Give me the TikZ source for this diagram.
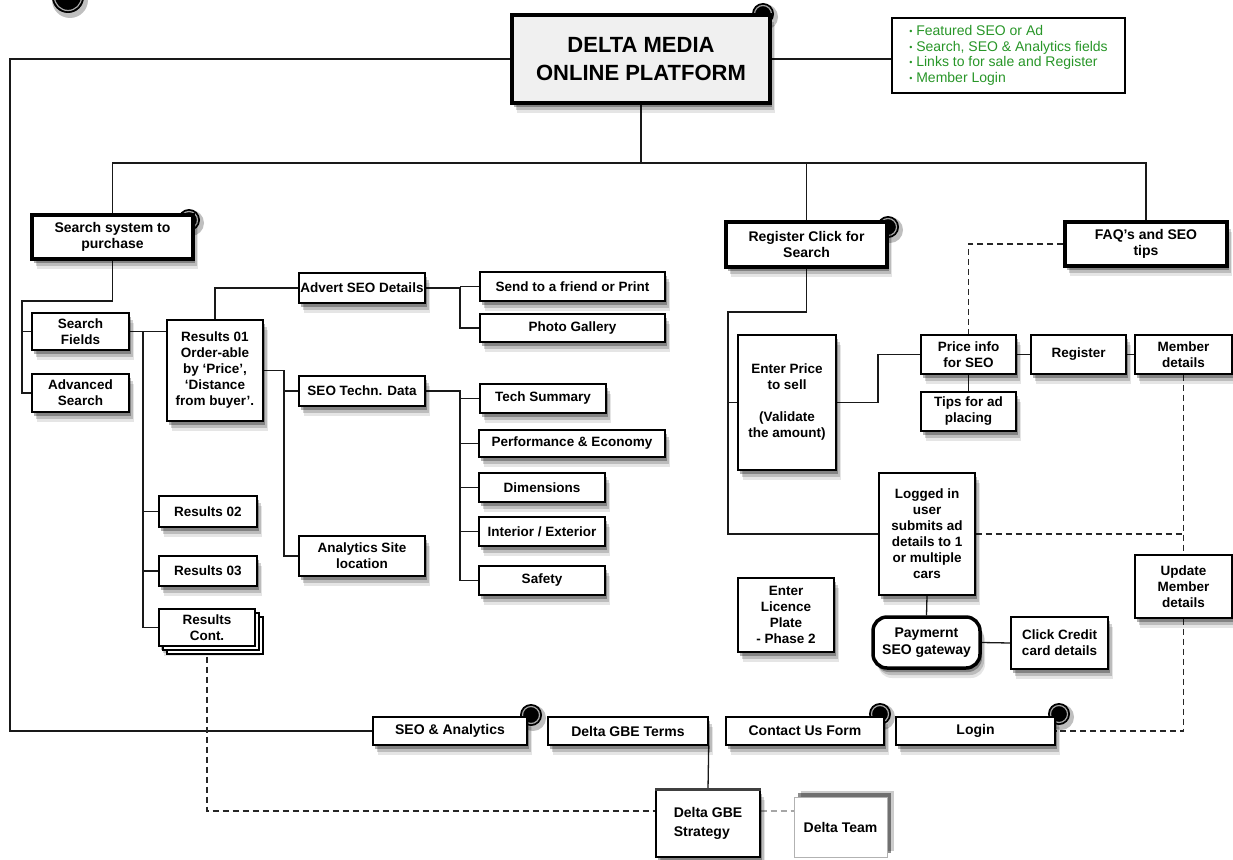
\documentclass[tikz,border=0pt]{standalone}
\usepackage{fontspec}
\setmainfont{Liberation Sans}
\usetikzlibrary{shadows}
\definecolor{grn}{RGB}{40,150,40}
\pgfdeclarelayer{back}
\pgfdeclarelayer{iconl}
\pgfsetlayers{back,iconl,main}
\tikzset{
  sh/.style={drop shadow={shadow xshift=5pt,shadow yshift=-10pt,opacity=.10,fill=black},
             drop shadow={shadow xshift=4pt,shadow yshift=-7pt,opacity=.18,fill=black},
             drop shadow={shadow xshift=2pt,shadow yshift=-4pt,opacity=.30,fill=black}},
  plainbx/.style={draw=black, line width=1.4pt, fill=white, align=center, inner sep=1pt,
             font=\fontsize{13.5}{16}\selectfont\bfseries},
  bx/.style={plainbx, sh},
  tbx/.style={bx, line width=3.5pt, font=\fontsize{14}{16.7}\selectfont\bfseries},
  bbx/.style={bx, font=\fontsize{14}{16.7}\selectfont\bfseries},
  ln/.style={draw=black!90, line width=1.3pt},
  dsh/.style={draw=black!85, line width=1.6pt, dash pattern=on 6pt off 4pt},
}
\newcommand{\mybx}[6][bx]{\node[#1, minimum width={#4-#2}, minimum height={#5-#3}] (#6) at ({(#2+#4)/2},{(#3+#5)/2})}
\newcommand{\myicon}[3][11]{%
  \fill[black,opacity=.25] (#2+2,#3+3) circle ({#1+2});
  \fill[black] (#2,#3) circle (#1);
  \draw[gray!70,line width=1.2pt] (#2,#3) circle ({#1-2.5});}
\begin{document}
\begin{tikzpicture}[x=1pt,y=-1pt]
\useasboundingbox (0,0) rectangle (1233,859);

% icons
\begin{pgfonlayer}{iconl}
\myicon[16]{68}{-3}
\myicon{763}{14}
\myicon{189}{220}
\myicon{888}{227}
\myicon{531}{715}
\myicon{880}{714}
\myicon{1059}{714}
\end{pgfonlayer}

% top
\mybx[tbx, fill=gray!12, font=\fontsize{22}{28}\selectfont\bfseries]{512}{15}{770}{103}{main} {DELTA MEDIA\\ONLINE PLATFORM};
\mybx[plainbx, line width=1.2pt, align=left, text=grn, font=\fontsize{14}{15.7}\selectfont]{892}{18}{1125}{93}{green}
  {{\fontsize{9}{9}\selectfont\raisebox{1pt}{•}} Featured SEO or Ad\\
   {\fontsize{9}{9}\selectfont\raisebox{1pt}{•}} Search, SEO \& Analytics fields\\
   {\fontsize{9}{9}\selectfont\raisebox{1pt}{•}} Links to for sale and Register\\
   {\fontsize{9}{9}\selectfont\raisebox{1pt}{•}} Member Login};

% left branch
\mybx[tbx]{32}{215}{193}{259}{search} {Search system to\\purchase};
\mybx{32}{313}{129}{350}{sf} {Search\\Fields};
\mybx{32}{374}{129}{412}{adv} {Advanced\\Search};
\mybx{167}{320}{263}{421}{r01} {Results 01\\Order-able\\by `Price',\\`Distance\\from buyer'.};
\mybx{159}{496}{257}{527}{r02} {Results 02};
\mybx{159}{556}{257}{586}{r03} {Results 03};
\mybx[bx, double copy shadow={shadow xshift=4pt,shadow yshift=-4pt,draw=black,fill=white,line width=1.2pt}]{159}{609}{255}{646}{rc} {Results\\Cont.};
\mybx{299}{273}{425}{303}{adseo} {Advert SEO Details};
\mybx{299}{376}{425}{406}{seotech} {SEO Techn. Data};
\mybx{299}{536}{425}{576}{ana} {Analytics Site\\location};
\mybx{480}{272}{665}{301}{send} {Send to a friend or Print};
\mybx{480}{314}{665}{342}{photo} {Photo Gallery};
\mybx{480}{384}{606}{413}{tech} {Tech Summary};
\mybx{479}{430}{665}{457}{perf} {Performance \& Economy};
\mybx{479}{473}{605}{502}{dim} {Dimensions};
\mybx{479}{517}{605}{546}{int} {Interior / Exterior};
\mybx{479}{566}{605}{595}{safety} {Safety};

% right branch
\mybx[tbx]{726}{222}{887}{267}{reg} {Register Click for\\Search};
\mybx[tbx]{1065}{222}{1227}{266}{faq} {FAQ's and SEO\\tips};
\mybx{738}{335}{836}{470}{ep} {Enter Price\\to sell\\[16pt](Validate\\the amount)};
\mybx{921}{335}{1016}{374}{price} {Price info\\for SEO};
\mybx{1031}{335}{1126}{374}{regb} {Register};
\mybx{1135}{335}{1232}{374}{mem} {Member\\details};
\mybx{921}{392}{1016}{431}{tips} {Tips for ad\\placing};
\mybx{879}{473}{975}{595}{logged} {Logged in\\user\\submits ad\\details to 1\\or multiple\\cars};
\mybx{738}{578}{834}{652}{lic} {Enter\\Licence\\Plate\\- Phase 2};
\mybx[tbx, rounded corners=14pt]{873}{617}{980}{668}{pay} {Paymernt\\SEO gateway};
\mybx{1011}{617}{1108}{669}{cc} {Click Credit\\card details};
\mybx{1135}{555}{1232}{618}{upd} {Update\\Member\\details};

% bottom row
\mybx[bbx]{373}{717}{527}{745}{seoa} {SEO \& Analytics};
\mybx[bbx]{548}{717}{708}{745}{terms} {Delta GBE Terms};
\mybx[bbx]{726}{717}{884}{745}{contact} {Contact Us Form};
\mybx[bbx]{896}{717}{1055}{745}{login} {Login};
\mybx[bbx, align=left, font=\fontsize{14}{19.5}\selectfont\bfseries]{656}{790}{760}{857}{strat} {Delta GBE\\Strategy};
\draw[line width=2.5pt, black!75] (strat.north west) -- (strat.north east);
\mybx[plainbx, draw=gray!60, line width=1pt, font=\fontsize{14}{16.7}\selectfont\bfseries,
  drop shadow={shadow xshift=7pt,shadow yshift=6pt,opacity=.2,fill=black},
  drop shadow={shadow xshift=4pt,shadow yshift=4pt,opacity=.45,fill=black}]{794}{797}{887}{857}{team} {Delta Team};

% connectors
\begin{pgfonlayer}{back}
\coordinate (bus) at (641,163);
\draw[ln] (main.south) -- (main.south |- bus);
\draw[ln] (search.north) -- (search.north |- bus) -- (faq.north |- bus) -- (faq.north);
\draw[ln] (reg.north) -- (reg.north |- bus);
\coordinate (cl) at (10,400);
\draw[ln] (main.west) -| (cl) |- (seoa.west);
\draw[ln] (main.east) -- (main.east -| green.west);

\coordinate (j1) at (22,301);
\draw[ln] (search.south) |- (j1) |- (adv.west);
\draw[ln] (sf.west) -- (sf.west -| j1);
\draw[ln] (sf.east) -- (sf.east -| r01.west);
\coordinate (v1) at (143,331.5);
\draw[ln] (v1) |- (rc.west);
\draw[ln] (r02.west) -- (r02.west -| v1);
\draw[ln] (r03.west) -- (r03.west -| v1);
\draw[ln] (r01.north) |- (adseo.west);
\coordinate (v2) at (284,450);
\draw[ln] (r01.east) -| (v2) |- (ana.west);
\draw[ln] (seotech.west) -- (seotech.west -| v2);
\coordinate (v3) at (460,300);
\draw[ln] (adseo.east) -- (adseo.east -| v3) |- (photo.west);
\draw[ln] (send.west) -- (send.west -| v3);
\coordinate (v4) at (460,450);
\draw[ln] (seotech.east) -- (seotech.east -| v4) |- (safety.west);
\foreach \n in {tech,perf,dim,int} \draw[ln] (\n.west) -- (\n.west -| v4);

\coordinate (v5) at (728,312);
\draw[ln] (reg.south) |- (v5) |- (logged.west);
\draw[ln] (ep.west) -- (ep.west -| v5);
\coordinate (v6) at (878,380);
\draw[ln] (ep.east) -| (v6) |- (price.west);
\draw[ln] (price.east) -- (regb.west);
\draw[ln] (regb.east) -- (mem.west);
\draw[ln] (price.south) -- (tips.north);
\draw[ln] (logged.south) -- (pay.north);
\draw[ln] (pay.east) -- (cc.west);
\draw[ln] (terms.south east) -- (strat.north);

\draw[dsh] (faq.west) -| (price.north);
\draw[dsh] (mem.south) -- (upd.north);
\draw[dsh] (upd.south) |- (login.east);
\draw[dsh] (logged.east) -- (logged.east -| mem.south);
\coordinate (dl) at (0,811);
\draw[dsh, line width=1.3pt] (rc.south) |- (strat.west |- dl);
\draw[dsh, line width=1.3pt, draw=gray!70] (strat.east |- dl) -- (team.west |- dl);
\end{pgfonlayer}
\end{tikzpicture}
\end{document}
